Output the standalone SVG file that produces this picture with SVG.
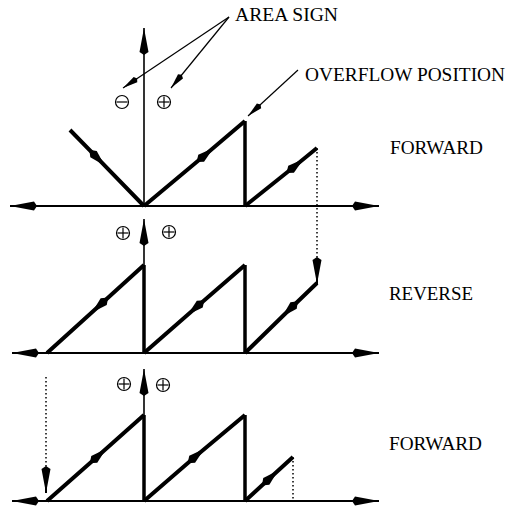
<svg xmlns="http://www.w3.org/2000/svg" width="508" height="508" viewBox="0 0 508 508">
<style>
.t{font-family:"Liberation Serif","Times New Roman",serif;font-size:18px;fill:#000}
.ax{stroke:#000;stroke-width:2;fill:none}
.vx{stroke:#000;stroke-width:1.6;fill:none}
.rp{stroke:#000;stroke-width:4;fill:none;stroke-linejoin:miter;marker-mid:url(#mh)}
.dr{stroke:#000;stroke-width:3.5;fill:none}
.ld{stroke:#000;stroke-width:1.2;fill:none}
.dt{stroke:#000;stroke-width:1.5;fill:none;stroke-dasharray:1.5 2.5}
.sg{stroke:#000;stroke-width:1.2;fill:none}
</style>
<defs>
<marker id="ah" markerUnits="userSpaceOnUse" markerWidth="30" markerHeight="12" refX="28" refY="6" orient="auto" overflow="visible"><path d="M28,6 L4,1.5 L1,6 L4,10.5 Z" fill="#000"/></marker>
<marker id="mh" markerUnits="userSpaceOnUse" markerWidth="24" markerHeight="12" refX="12" refY="6" orient="auto" overflow="visible"><path d="M23,6 L7,1.5 L1,6 L7,10.5 Z" fill="#000"/></marker>
<marker id="lh" markerUnits="userSpaceOnUse" markerWidth="20" markerHeight="10" refX="18" refY="5" orient="auto" overflow="visible"><path d="M18,5 L3,1.8 L1,5 L3,8.2 Z" fill="#000"/></marker>
</defs>

<g id="labels">
<text class="t" x="235" y="21" textLength="103" lengthAdjust="spacingAndGlyphs">AREA SIGN</text>
<text class="t" x="305" y="81" textLength="200" lengthAdjust="spacingAndGlyphs">OVERFLOW POSITION</text>
<text class="t" x="390" y="154" textLength="93" lengthAdjust="spacingAndGlyphs">FORWARD</text>
<text class="t" x="389" y="300" textLength="84" lengthAdjust="spacingAndGlyphs">REVERSE</text>
<text class="t" x="389" y="450" textLength="93" lengthAdjust="spacingAndGlyphs">FORWARD</text>
</g>

<g id="signs">
<circle class="sg" cx="122" cy="102" r="6.5"/><line class="sg" x1="116.5" y1="102" x2="127.5" y2="102"/>
<circle class="sg" cx="164" cy="102" r="6.5"/><line class="sg" x1="158.5" y1="102" x2="169.5" y2="102"/><line class="sg" x1="164" y1="96.5" x2="164" y2="107.5"/>
<circle class="sg" cx="123" cy="233" r="6.5"/><line class="sg" x1="117.5" y1="233" x2="128.5" y2="233"/><line class="sg" x1="123" y1="227.5" x2="123" y2="238.5"/>
<circle class="sg" cx="169" cy="232" r="6.5"/><line class="sg" x1="163.5" y1="232" x2="174.5" y2="232"/><line class="sg" x1="169" y1="226.5" x2="169" y2="237.5"/>
<circle class="sg" cx="124" cy="384" r="6.5"/><line class="sg" x1="118.5" y1="384" x2="129.5" y2="384"/><line class="sg" x1="124" y1="378.5" x2="124" y2="389.5"/>
<circle class="sg" cx="163" cy="385" r="6.5"/><line class="sg" x1="157.5" y1="385" x2="168.5" y2="385"/><line class="sg" x1="163" y1="379.5" x2="163" y2="390.5"/>
</g>

<g id="connectors">
<line class="ld" x1="229" y1="17" x2="123" y2="88" marker-end="url(#lh)"/>
<line class="ld" x1="229" y1="17" x2="171" y2="88" marker-end="url(#lh)"/>
<line class="ld" x1="298" y1="70" x2="248" y2="116" marker-end="url(#lh)"/>
</g>

<g id="panel-forward-1">
<line class="ax" x1="144" y1="206" x2="10" y2="206" marker-end="url(#ah)"/>
<line class="ax" x1="144" y1="206" x2="379" y2="206" marker-end="url(#ah)"/>
<line class="vx" x1="144" y1="206" x2="144" y2="28" marker-end="url(#ah)"/>
<polyline class="rp" points="70,130 97,157.7 144,206"/>
<polyline class="rp" points="144,206 205,155 245,121"/>
<line class="dr" x1="245" y1="121" x2="245" y2="206"/>
<polyline class="rp" points="245,206 295,166 317,148"/>
<line class="dt" x1="317" y1="148" x2="317" y2="262"/>
</g>

<g id="panel-reverse">
<line class="ax" x1="144" y1="353" x2="12" y2="353" marker-end="url(#ah)"/>
<line class="ax" x1="144" y1="353" x2="379" y2="353" marker-end="url(#ah)"/>
<line class="vx" x1="144" y1="265" x2="144" y2="219" marker-end="url(#ah)"/>
<line class="ax" x1="317" y1="262" x2="317" y2="284" marker-end="url(#ah)"/>
<polyline class="rp" points="144,265 100,305 47,353"/>
<line class="dr" x1="144" y1="265" x2="144" y2="353"/>
<polyline class="rp" points="245,265 196,307.5 144,353"/>
<line class="dr" x1="245" y1="265" x2="245" y2="353"/>
<polyline class="rp" points="317,283 290,309 245,353"/>
</g>

<g id="panel-forward-2">
<line class="ax" x1="144" y1="501" x2="12" y2="501" marker-end="url(#ah)"/>
<line class="ax" x1="144" y1="501" x2="379" y2="501" marker-end="url(#ah)"/>
<line class="vx" x1="144" y1="415" x2="144" y2="369" marker-end="url(#ah)"/>
<line class="dt" x1="46" y1="377" x2="46" y2="473"/>
<line class="ax" x1="46" y1="473" x2="46" y2="493" marker-end="url(#ah)"/>
<polyline class="rp" points="47,501 98,456 144,415"/>
<line class="dr" x1="144" y1="415" x2="144" y2="501"/>
<polyline class="rp" points="144,501 196,456 245,415"/>
<line class="dr" x1="245" y1="415" x2="245" y2="501"/>
<polyline class="rp" points="245,501 270,478 293,457"/>
<line class="dt" x1="293" y1="457" x2="293" y2="501"/>
</g>
</svg>
